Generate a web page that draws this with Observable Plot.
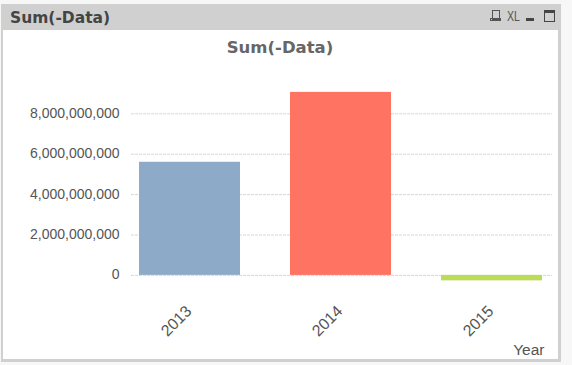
<!DOCTYPE html>
<html><head><meta charset="utf-8">
<script src="https://cdn.jsdelivr.net/npm/d3@7"></script>
<script src="https://cdn.jsdelivr.net/npm/@observablehq/plot@0.6"></script>
<style>
html,body{margin:0;padding:0;background:#f7f7f7;width:572px;height:365px;overflow:hidden}
#frame{position:absolute;left:1px;top:4px;width:555px;height:355px;background:#fff;border:solid #d0d0d0;border-width:0 3px 3px 2px}
#head{position:absolute;left:1px;top:4px;width:560px;height:26px;background:#d0d0d0}
#caption{position:absolute;left:10px;top:7px;font:bold 15.5px "DejaVu Sans";color:#444;line-height:22px}
#title{position:absolute;left:0;width:560px;top:37px;text-align:center;font:bold 16.5px "DejaVu Sans";color:#666;line-height:22px}
#xl{position:absolute;left:507px;top:8px;font:15px "Liberation Sans";color:#555;line-height:16px;transform:scaleX(.7);transform-origin:left top}
#min{position:absolute;left:526px;top:18px;width:8px;height:3px;background:#444}
#max{position:absolute;left:544px;top:10px;width:9px;height:8px;border:1px solid #444;border-top-width:3px}
#prn{position:absolute;left:492px;top:10px;width:6px;height:8px;border:1px solid #555}
#prn2{position:absolute;left:490px;top:18px;width:9px;height:1px;border:1px solid #555}
#chart{position:absolute;left:0;top:0}
svg{background:transparent!important;display:block}
</style></head><body>
<div id="frame"></div><div id="head"></div>
<div id="caption">Sum(-Data)</div>
<div id="prn"></div><div id="prn2"></div><div id="xl">XL</div><div id="min"></div><div id="max"></div>
<div id="title">Sum(-Data)</div>
<div id="chart"></div>
<script>
const years = ["2013", "2014", "2015"];
const values = [5.6e9, 9.06e9, -0.27e9];
const colors = ["#8eaac9", "#ff7362", "#bcdb57"];
const yTicks = [0, 2e9, 4e9, 6e9, 8e9];
const table = years.map((year, i) => ({year, value: values[i]}));
const font = "Liberation Sans";
const chart = Plot.plot({
  width: 572, height: 365,
  marginLeft: 114, marginRight: 5, marginTop: 83, marginBottom: 80,
  style: {background: "transparent", fontFamily: font, fontSize: "14px", color: "#444"},
  x: {type: "band", domain: years, paddingInner: 0.331, paddingOuter: 0.165, label: null},
  y: {domain: [-0.5e9, 9.5e9], label: null},
  color: {domain: years, range: colors},
  marks: [
    Plot.ruleY(yTicks, {stroke: "#d6d6d6", strokeDasharray: "3,1", strokeOpacity: 1, insetLeft: 17, insetRight: 15}),
    Plot.barY(table, {x: "year", y: "value", fill: "year"}),
    Plot.axisY({ticks: yTicks, tickSize: 0, tickPadding: -5, dy: -0.5, tickFormat: d3.format(","), label: null, fontSize: 14, fill: "#555", anchor: "left"}),
    Plot.axisX({tickSize: 0, tickRotate: -45, tickPadding: 23, dx: -1, fontSize: 16, fill: "#555", label: null}),
    Plot.text(["Year"], {frameAnchor: "bottom-right", dx: -23, dy: 69, fontSize: 15.5, fill: "#555", textAnchor: "end"})
  ]
});
document.getElementById("chart").appendChild(chart);
</script>
</body></html>
